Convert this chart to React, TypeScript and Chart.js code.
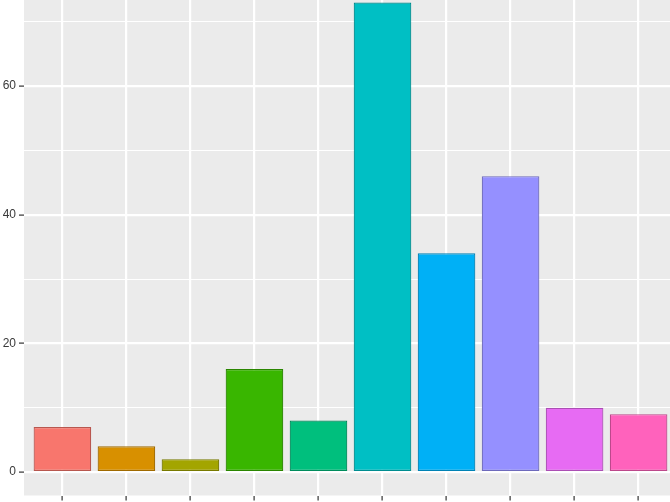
import React, { useEffect, useRef } from "react";
import { Chart, registerables } from "chart.js";

Chart.register(...registerables);

const categories = ["A", "B", "C", "D", "E", "F", "G", "H", "I", "J"];
const counts = [7, 4, 2, 16, 8, 73, 34, 46, 10, 9];
const fills = ["#F8766D", "#D89000", "#A3A500", "#39B600", "#00BF7D", "#00BFC4", "#00B0F6", "#9590FF", "#E76BF3", "#FF62BC"];
const borders = ["#B8574F", "#A06A00", "#787A00", "#2A8600", "#008C5C", "#008D90", "#0082B5", "#6E6ABC", "#AB4FB4", "#BC488B"];
const yTicks = [0, 10, 20, 30, 40, 50, 60, 70];
const yMin = -3.65;
const yMax = 76.65;

const panelBg = {
  id: "panelBg",
  beforeDraw(chart: any) {
    const { ctx, chartArea } = chart;
    ctx.save();
    ctx.fillStyle = "#EBEBEB";
    ctx.fillRect(chartArea.left, chartArea.top, chartArea.right - chartArea.left, chartArea.bottom - chartArea.top);
    ctx.restore();
  },
};

export default function App() {
  const ref = useRef<HTMLCanvasElement>(null);
  useEffect(() => {
    const chart = new Chart(ref.current!, {
      type: "bar",
      data: {
        datasets: [
          {
            data: counts.map((v, i) => ({ x: i, y: v })),
            backgroundColor: fills,
            borderColor: borders,
            borderWidth: 1.2,
            borderSkipped: false,
            categoryPercentage: 1,
            barPercentage: 0.9,
          },
        ],
      },
      options: {
        responsive: false,
        animation: false,
        layout: { padding: 0 },
        plugins: { legend: { display: false }, tooltip: { enabled: false } },
        scales: {
          x: {
            type: "linear",
            offset: false,
            min: -0.6,
            max: categories.length - 0.4,
            afterBuildTicks: (s: any) => {
              s.ticks = categories.map((_, i) => ({ value: i }));
            },
            afterFit: (s: any) => {
              s.height = 30.5;
              s.paddingLeft = 0;
              s.paddingRight = 0;
            },
            border: { display: false },
            grid: {
              offset: false,
              color: "#FFFFFF",
              lineWidth: 2.2,
              tickColor: "#333333",
              tickLength: 5,
              tickWidth: 1.2,
            },
            ticks: {
              display: false,
              callback: (v: any) => categories[v] ?? "",
            },
          },
          y: {
            min: yMin,
            max: yMax,
            afterBuildTicks: (s: any) => {
              s.ticks = yTicks.map((v) => ({ value: v }));
            },
            afterFit: (s: any) => {
              s.width = 24;
              s.paddingTop = 0;
              s.paddingBottom = 0;
            },
            border: { display: false },
            grid: {
              color: "#FFFFFF",
              lineWidth: (c: any) => (c.tick && c.tick.value % 20 === 0 ? 2.2 : 1.1),
              tickColor: (c: any) => (c.tick && c.tick.value % 20 === 0 ? "#333333" : "rgba(0,0,0,0)"),
              tickLength: 5,
              tickWidth: 1.2,
            },
            ticks: {
              color: "#3A3A3A",
              font: { family: "Liberation Sans, Arial, sans-serif", size: 12 },
              padding: 3,
              callback: (v: any) => (v % 20 === 0 ? String(v) : ""),
            },
          },
        },
      },
      plugins: [panelBg],
    } as any);
    return () => chart.destroy();
  }, []);
  return (
    <div style={{ position: "fixed", top: 0, left: 0, width: 670, height: 502, overflow: "hidden", background: "#FFFFFF" }}>
      <div style={{ position: "absolute", top: -21, left: 0 }}>
        <canvas ref={ref} width={677} height={547} style={{ display: "block" }} />
      </div>
    </div>
  );
}
